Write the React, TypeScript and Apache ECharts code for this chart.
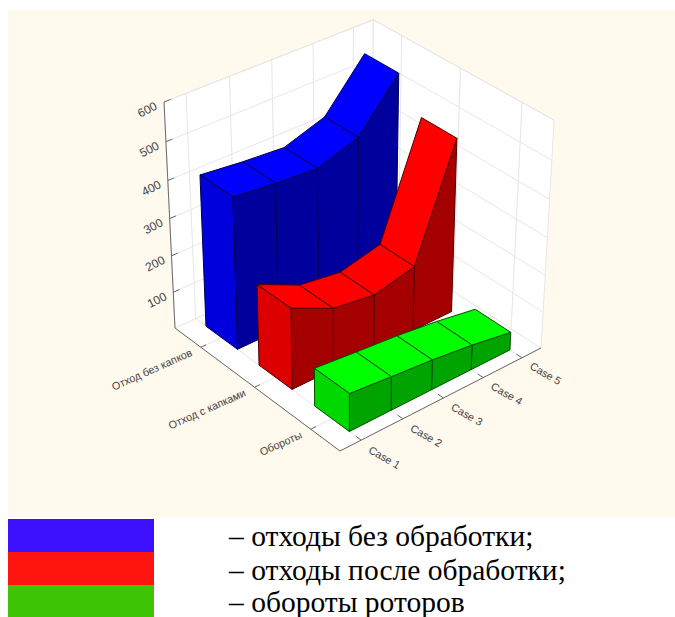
import React, { useEffect, useRef } from "react";
import * as echarts from "echarts";

// Data
const cases = ["Case 1", "Case 2", "Case 3", "Case 4", "Case 5"];
const depthLabels = ["Обороты", "Отход с капками", "Отход без капков"];
const valueTicks = [100, 200, 300, 400, 500, 600];
const withoutHusks = [410, 398, 390, 426, 549];
const withHusks = [220, 167, 151, 177, 469];
const rotations = [103, 92, 82, 68, 49];
const legendLabels = ["– отходы без обработки;", "– отходы после обработки;", "– обороты роторов"];
const legendColors = ["#3c0fff", "#ff1410", "#3cc405"];
const legendTextY = [536, 570, 602];

// Faces of each ribbon: top, front side, end cap, edge
const ribbonStyles = [
  { values: rotations, depth: 0, top: "#00ff00", side: "#00a400", cap: "#00d800", edge: "#004d00" },
  { values: withHusks, depth: 1, top: "#ff0000", side: "#a40000", cap: "#dc0000", edge: "#4d0000" },
  { values: withoutHusks, depth: 2, top: "#0000ff", side: "#00009c", cap: "#0000dc", edge: "#00004d" },
];

// Perspective box: floor corners, top of the axis corner, and the projective weights
const FRONT = [340, 451];
const RIGHT = [541, 348];
const LEFT = [175, 328];
const LEFT_TOP = [164, 102];
const G = 0.061;
const H = 0.075;
const I = -0.066;
const RIBBON_HALF = 0.1;

function project(u: number, v: number, w: number): number[] {
  const d = 1 + G * u + H * v + I * w;
  return [0, 1].map((k) => {
    const uVec = (1 + G) * RIGHT[k] - FRONT[k];
    const vVec = (1 + H) * LEFT[k] - FRONT[k];
    const wVec = (1 + H + I) * LEFT_TOP[k] - (1 + H) * LEFT[k];
    return (FRONT[k] + u * uVec + v * vVec + w * wVec) / d;
  });
}

const poly = (points: number[][], fill: string, stroke: string, lineWidth = 1) => ({
  type: "polygon",
  shape: { points },
  style: { fill, stroke, lineWidth },
  silent: true,
});

const seg = (a: number[], b: number[], stroke: string, lineWidth = 1) => ({
  type: "line",
  shape: { x1: a[0], y1: a[1], x2: b[0], y2: b[1] },
  style: { stroke, lineWidth, fill: "none" },
  silent: true,
});

// Rotated axis label; deg is counter-clockwise
const label = (text: string, at: number[], deg: number, textAlign: string, fontSize = 10.8) => ({
  type: "text",
  x: at[0],
  y: at[1],
  rotation: (deg * Math.PI) / 180,
  style: {
    text,
    textAlign,
    textVerticalAlign: "middle",
    fontFamily: "Liberation Sans",
    fontSize,
    fill: "#444444",
  },
  silent: true,
});

// Unit position of a data point inside the hidden cartesian grid
function unit(api: any, params: any, index: number, value: number) {
  const c = api.coord([index, value]);
  const sys = params.coordSys;
  return { u: (c[0] - sys.x) / sys.width, w: (sys.y + sys.height - c[1]) / sys.height };
}

// Floor, two back walls, grid lines, axes and their labels
function renderBox(params: any, api: any) {
  const grid = "#e6e6e6";
  const axis = "#6a6a6a";
  const caseU = cases.map((_, i) => unit(api, params, i, 0).u);
  const depthV = depthLabels.map((_, i) => (i + 0.5) / depthLabels.length);
  const tickW = valueTicks.map((t) => unit(api, params, 0, t).w);
  const children: any[] = [
    poly([project(0, 0, 0), project(1, 0, 0), project(1, 1, 0), project(0, 1, 0)], "#ffffff", grid),
    poly([project(0, 1, 0), project(1, 1, 0), project(1, 1, 1), project(0, 1, 1)], "#ffffff", grid),
    poly([project(1, 0, 0), project(1, 1, 0), project(1, 1, 1), project(1, 0, 1)], "#ffffff", grid),
  ];
  caseU.forEach((u) => {
    children.push(seg(project(u, 0, 0), project(u, 1, 0), grid));
    children.push(seg(project(u, 1, 0), project(u, 1, 1), grid));
  });
  depthV.forEach((v) => {
    children.push(seg(project(0, v, 0), project(1, v, 0), grid));
    children.push(seg(project(1, v, 0), project(1, v, 1), grid));
  });
  tickW.forEach((w) => {
    children.push(seg(project(0, 1, w), project(1, 1, w), grid));
    children.push(seg(project(1, 1, w), project(1, 0, w), grid));
  });
  children.push(seg(project(0, 0, 0), project(1, 0, 0), axis));
  children.push(seg(project(0, 0, 0), project(0, 1, 0), axis));
  children.push(seg(project(0, 1, 0), project(0, 1, 1), axis));
  caseU.forEach((u, i) => {
    children.push(seg(project(u, 0, 0), project(u, 0.03, 0), axis));
    children.push(label(cases[i], project(u, -0.13, 0), -30, "center"));
  });
  depthV.forEach((v, i) => {
    children.push(seg(project(0, v, 0), project(0.025, v, 0), axis));
    children.push(label(depthLabels[i], project(-0.045, v, 0), 24, "right"));
  });
  tickW.forEach((w, i) => {
    children.push(seg(project(0, 1, w), project(0.03, 1, w), axis));
    children.push(label(String(valueTicks[i]), project(-0.035, 1, w), 27, "right", 12));
  });
  return { type: "group", children };
}

// One segment of a ribbon, from a case to the next one
function renderRibbon(style: (typeof ribbonStyles)[number]) {
  return (params: any, api: any) => {
    const i = api.value(0);
    const a = unit(api, params, i, api.value(1));
    const b = unit(api, params, i + 1, api.value(2));
    const centre = (style.depth + 0.5) / depthLabels.length;
    const v0 = centre - RIBBON_HALF;
    const v1 = centre + RIBBON_HALF;
    const children: any[] = [
      poly([project(a.u, v0, 0), project(b.u, v0, 0), project(b.u, v0, b.w), project(a.u, v0, a.w)], style.side, style.edge),
      poly([project(a.u, v0, a.w), project(b.u, v0, b.w), project(b.u, v1, b.w), project(a.u, v1, a.w)], style.top, style.edge),
    ];
    if (i === 0) {
      children.push(poly([project(a.u, v0, 0), project(a.u, v1, 0), project(a.u, v1, a.w), project(a.u, v0, a.w)], style.cap, style.edge));
    }
    return { type: "group", children };
  };
}

export default function App() {
  const ref = useRef<HTMLDivElement>(null);

  useEffect(() => {
    document.body.style.margin = "0";
    const chart = echarts.init(ref.current!, null, { renderer: "svg" });
    const ribbonSeries = [...ribbonStyles].reverse().map((style) => {
      const data: number[][] = [];
      for (let i = style.values.length - 2; i >= 0; i--) data.push([i, style.values[i], style.values[i + 1]]);
      return {
        type: "custom",
        renderItem: renderRibbon(style),
        encode: { x: 0, y: 1 },
        data,
        silent: true,
      };
    });
    chart.setOption({
      animation: false,
      backgroundColor: "#ffffff",
      grid: { left: 0, right: 0, top: 0, bottom: 0 },
      xAxis: { type: "category", data: cases, show: false },
      yAxis: { type: "value", min: 0, max: 600, show: false },
      graphic: [
        { type: "rect", shape: { x: 8, y: 10, width: 667, height: 507 }, style: { fill: "#fff9ee" }, silent: true },
        ...legendColors.map((fill, i) => ({
          type: "rect",
          shape: { x: 8, y: 519 + i * 33, width: 146, height: 33 + (i === 2 ? 0 : 0.5) },
          style: { fill },
          silent: true,
        })),
        ...legendLabels.map((text, i) => ({
          type: "text",
          x: 229,
          y: legendTextY[i],
          style: {
            text,
            fontFamily: "Liberation Serif",
            fontSize: 29.5,
            fill: "#000000",
            textVerticalAlign: "middle",
          },
          silent: true,
        })),
      ],
      series: [
        { type: "custom", renderItem: renderBox, encode: { x: 0, y: 1 }, data: [[0, 0]], silent: true },
        ...ribbonSeries,
      ],
    });
    return () => chart.dispose();
  }, []);

  return <div ref={ref} style={{ width: 675, height: 617 }} />;
}
